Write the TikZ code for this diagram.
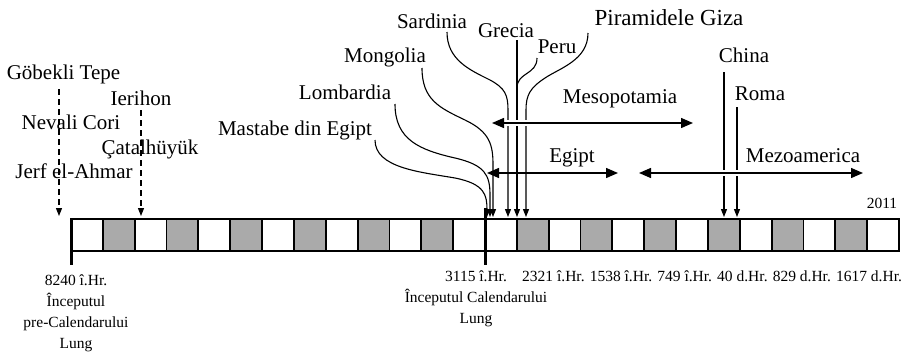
\documentclass[tikz,border=0pt]{standalone}
\usepackage{fontspec}
\setmainfont{Liberation Serif}
\usetikzlibrary{arrows.meta}
\definecolor{cellgray}{RGB}{170,170,170}
\begin{document}
\begin{tikzpicture}[x=1pt,y=-1pt,
  lbl/.style={inner sep=0pt, anchor=base, font=\fontsize{21}{24}\selectfont},
  biglbl/.style={inner sep=0pt, anchor=base, font=\fontsize{23}{26}\selectfont},
  datelbl/.style={inner sep=0pt, anchor=base, font=\fontsize{15.5}{18}\selectfont},
  conn/.style={line width=1.1pt, -{Triangle[length=8pt,width=6pt]}},
  dconn/.style={conn, dash pattern=on 6pt off 4pt},
  spanarrow/.style={line width=1.4pt, {Triangle[length=12pt,width=10pt]}-{Triangle[length=12pt,width=10pt]}},
  halo/.style={white, line width=6pt},
  barline/.style={line width=1.8pt},
  thickbar/.style={line width=3pt}]
\useasboundingbox (0,0) rectangle (908,351);
% --- the bar ---
\pgfmathsetmacro\cw{828/26}
\foreach \i in {1,3,5,7,9,11,14,16,18,20,22,24} \fill[cellgray] ({71+\i*\cw},219) rectangle ({71+(\i+1)*\cw},251);
\draw[barline] (71,219) rectangle (899,251);
\foreach \i in {1,...,25} \draw[barline] ({71+\i*\cw},219) -- ({71+\i*\cw},251);
\draw[thickbar] (71,218) -- (71,265);
\draw[thickbar] (485,208) -- (485,265);
% --- labels ---
\node[lbl] (gob) at (63.5,79) {Göbekli Tepe};
\node[lbl] (ier) at (141,105) {Ierihon};
\node[lbl] (nev) at (71,129) {Nevali Cori};
\node[lbl] (cat) at (150,154) {Çatalhüyük};
\node[lbl] (jer) at (74,178) {Jerf el-Ahmar};
\node[lbl] (mas) at (295,135) {Mastabe din Egipt};
\node[lbl] (lom) at (345,99) {Lombardia};
\node[lbl] (mon) at (385,62) {Mongolia};
\node[lbl] (sar) at (432,28) {Sardinia};
\node[lbl] (gre) at (506,37) {Grecia};
\node[lbl] (per) at (557,53) {Peru};
\node[biglbl] (giz) at (669,25) {Piramidele Giza};
\node[lbl] (mes) at (620,103) {Mesopotamia};
\node[lbl] (egi) at (572,162) {Egipt};
\node[lbl] (mez) at (803,162) {Mezoamerica};
\node[lbl] (chi) at (744,62) {China};
\node[lbl] (rom) at (760,100) {Roma};
\node[datelbl] (y2011) at (882,208) {2011};
% --- dates below the bar ---
\node[datelbl] (d8240) at (76,285) {8240 î.Hr.};
\node[datelbl] (d8240b) at (76,306) {Începutul};
\node[datelbl] (d8240c) at (76,327) {pre-Calendarului};
\node[datelbl] (d8240d) at (76,348) {Lung};
\node[datelbl] (d3115) at (476,281) {3115 î.Hr.};
\node[datelbl] (d3115b) at (476,302) {Începutul Calendarului};
\node[datelbl] (d3115c) at (476,323) {Lung};
\node[datelbl, anchor=base west] (dates) at (522,281) {2321 î.Hr. 1538 î.Hr. 749 î.Hr. 40 d.Hr. 829 d.Hr. 1617 d.Hr.};
% --- connector end points ---
\coordinate (gobS) at (59,89);   \coordinate (gobE) at (59,216);
\coordinate (ierS) at (141,110); \coordinate (ierE) at (141,216);
\coordinate (masS) at (375,140); \coordinate (masE) at (487,217);
\coordinate (lomS) at (395,104); \coordinate (lomE) at (490,217);
\coordinate (monS) at (422,68);  \coordinate (monE) at (493,217);
\coordinate (sarS) at (447,32);  \coordinate (sarE) at (508,217);
\coordinate (greS) at (517,40);  \coordinate (greE) at (517,217);
\coordinate (perS) at (537,58);  \coordinate (perJ) at (517,88);
\coordinate (gizS) at (588,33);  \coordinate (gizE) at (526,217);
\coordinate (chiS) at (724,72);  \coordinate (chiE) at (724,217);
\coordinate (romS) at (737,107); \coordinate (romE) at (737,217);
\coordinate (mesL) at (492,123); \coordinate (mesR) at (693,123);
\coordinate (egiL) at (487,173); \coordinate (egiR) at (618,173);
\coordinate (mezL) at (639,173); \coordinate (mezR) at (863,173);
% --- connectors ---
\draw[dconn] (gobS) -- (gobE);
\draw[dconn] (ierS) -- (ierE);
\draw[conn] (masS) .. controls (375,168) and (420,172) .. (455,178) .. controls (485,184) and (487,195) .. (487,210) -- (masE);
\draw[conn] (lomS) .. controls (395,140) and (420,150) .. (455,158) .. controls (485,165) and (490,175) .. (490,195) -- (lomE);
\draw[conn] (monS) .. controls (422,100) and (440,108) .. (465,120) .. controls (490,132) and (493,145) .. (493,165) -- (monE);
\draw[conn] (sarS) .. controls (447,60) and (470,70) .. (490,80) .. controls (505,88) and (508,95) .. (508,110) -- (sarE);
\draw[conn] (greS) -- (greE);
\draw[line width=1.1pt] (perS) .. controls (537,75) and (517,72) .. (perJ);
\draw[conn] (gizS) .. controls (588,60) and (560,68) .. (545,78) .. controls (530,88) and (526,95) .. (526,110) -- (gizE);
\draw[conn] (chiS) -- (chiE);
\draw[conn] (romS) -- (romE);
% --- spans ---
\draw[halo] ([xshift=12pt]mesL) -- ([xshift=-12pt]mesR);
\draw[spanarrow] (mesL) -- (mesR);
\draw[spanarrow] (egiL) -- (egiR);
\draw[halo] ([xshift=12pt]mezL) -- ([xshift=-12pt]mezR);
\draw[spanarrow] (mezL) -- (mezR);
\end{tikzpicture}
\end{document}
